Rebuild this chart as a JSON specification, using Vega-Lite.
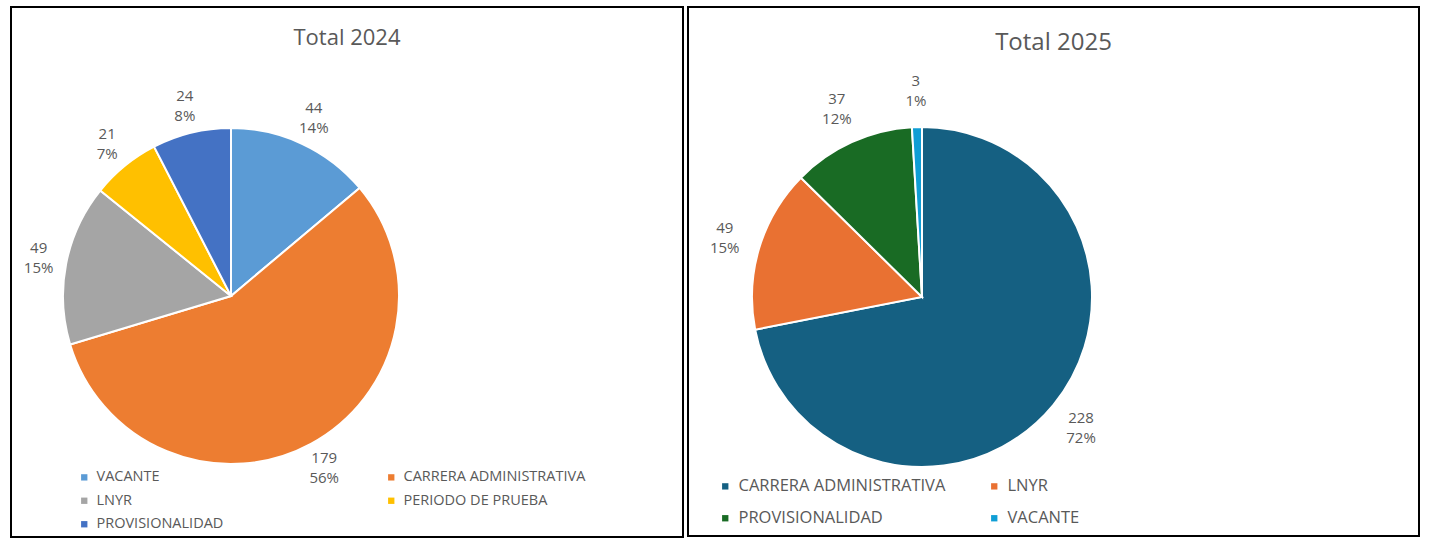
{
  "$schema": "https://vega.github.io/schema/vega-lite/v6.json",
  "padding": {"left": 10, "top": 6, "right": 0, "bottom": 0},
  "background": "white",
  "spacing": 3,
  "resolve": {"scale": {"color": "independent", "theta": "independent"}, "legend": {"color": "independent"}},
  "config": {
    "view": {"stroke": "black", "strokeWidth": 2},
    "style": {"view": {"stroke": "black", "strokeWidth": 2}},
    "font": "Open Sans",
    "title": {"fontWeight": "normal", "color": "#595959", "anchor": "middle", "frame": "group", "baseline": "middle"}
  },
  "hconcat": [
    {
      "width": 672,
      "height": 530,
      "view": {"style": "cell", "stroke": "black", "strokeWidth": 2},
      "title": {"text": "Total 2024", "fontSize": 22, "offset": -43},
      "data": {"values": [
        {"categoria": "VACANTE", "valor": 44, "pct": 0.14},
        {"categoria": "CARRERA ADMINISTRATIVA", "valor": 179, "pct": 0.56},
        {"categoria": "LNYR", "valor": 49, "pct": 0.15},
        {"categoria": "PERIODO DE PRUEBA", "valor": 21, "pct": 0.07},
        {"categoria": "PROVISIONALIDAD", "valor": 24, "pct": 0.08}
      ]},
      "encoding": {
        "theta": {"field": "valor", "type": "quantitative", "stack": true, "scale": {"range": [0.8721, 7.1553]}},
        "order": {"field": "categoria", "sort": "ascending"},
        "detail": {"field": "categoria"}
      },
      "layer": [
        {
          "mark": {"type": "arc", "x": 220, "y": 289, "outerRadius": 168, "stroke": "white", "strokeWidth": 2},
          "encoding": {
            "color": {"field": "categoria", "type": "nominal",
              "scale": {"domain": ["VACANTE", "CARRERA ADMINISTRATIVA", "LNYR", "PERIODO DE PRUEBA", "PROVISIONALIDAD"],
                        "range": ["#5B9BD5", "#ED7D31", "#A5A5A5", "#FFC000", "#4472C4"]},
              "legend": {"title": null, "orient": "none", "legendX": 66, "legendY": 463, "direction": "horizontal", "columns": 2, "columnPadding": 160, "rowPadding": 8.5, "padding": 0,
                         "symbolType": "square", "symbolSize": 40, "symbolStrokeWidth": 0, "labelFontSize": 14.5, "labelColor": "#595959", "labelLimit": 300, "labelOffset": 5}}
          }
        },
        {
          "mark": {"type": "text", "x": 220, "y": 289, "radius": 196, "dy": -10, "fontSize": 15, "color": "#595959"},
          "encoding": {"text": {"field": "valor", "type": "quantitative"}}
        },
        {
          "mark": {"type": "text", "x": 220, "y": 289, "radius": 196, "dy": 10, "fontSize": 15, "color": "#595959"},
          "encoding": {"text": {"field": "pct", "type": "quantitative", "format": ".0%"}}
        }
      ]
    },
    {
      "width": 731,
      "height": 529,
      "view": {"style": "cell", "stroke": "black", "strokeWidth": 2},
      "title": {"text": "Total 2025", "fontSize": 24, "offset": -48},
      "data": {"values": [
        {"categoria": "CARRERA ADMINISTRATIVA", "valor": 228, "pct": 0.72},
        {"categoria": "LNYR", "valor": 49, "pct": 0.15},
        {"categoria": "PROVISIONALIDAD", "valor": 37, "pct": 0.12},
        {"categoria": "VACANTE", "valor": 3, "pct": 0.01}
      ]},
      "encoding": {
        "theta": {"field": "valor", "type": "quantitative", "stack": true},
        "order": {"field": "categoria", "sort": "ascending"},
        "detail": {"field": "categoria"}
      },
      "layer": [
        {
          "mark": {"type": "arc", "x": 234, "y": 290, "outerRadius": 170, "stroke": "white", "strokeWidth": 2},
          "encoding": {
            "color": {"field": "categoria", "type": "nominal",
              "scale": {"domain": ["CARRERA ADMINISTRATIVA", "LNYR", "PROVISIONALIDAD", "VACANTE"],
                        "range": ["#156082", "#E97132", "#196B24", "#0F9ED5"]},
              "legend": {"title": null, "orient": "none", "legendX": 29, "legendY": 471, "direction": "horizontal", "columns": 2, "columnPadding": 40, "rowPadding": 15, "padding": 0,
                         "symbolType": "square", "symbolSize": 40, "symbolStrokeWidth": 0, "labelFontSize": 16.5, "labelColor": "#595959", "labelLimit": 300, "labelOffset": 5}}
          }
        },
        {
          "mark": {"type": "text", "x": 234, "y": 290, "radius": 206, "dy": -10, "fontSize": 15, "color": "#595959"},
          "encoding": {"text": {"field": "valor", "type": "quantitative"}}
        },
        {
          "mark": {"type": "text", "x": 234, "y": 290, "radius": 206, "dy": 10, "fontSize": 15, "color": "#595959"},
          "encoding": {"text": {"field": "pct", "type": "quantitative", "format": ".0%"}}
        }
      ]
    }
  ]
}
